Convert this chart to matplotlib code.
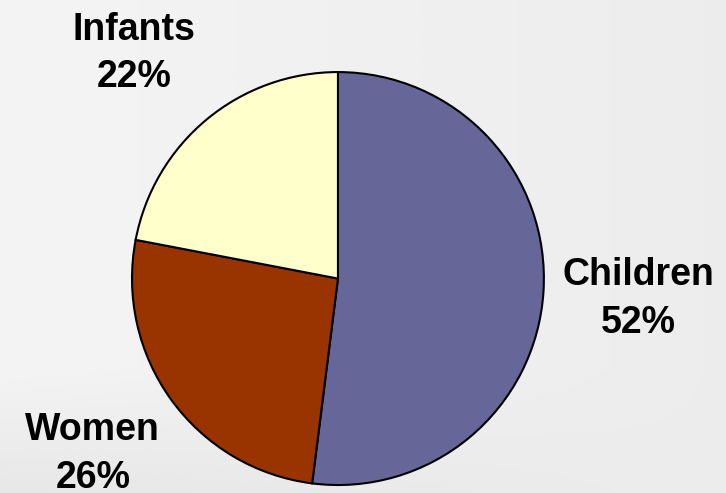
import numpy as np
import matplotlib
matplotlib.use("Agg")
import matplotlib.pyplot as plt

labels = ["Children", "Women", "Infants"]
shares = [52, 26, 22]
colors = ["#666699", "#993300", "#FFFFCC"]
# label centres in pie data units (radius = 1)
label_pos = [(1.46, -0.10), (-1.19, -0.85), (-0.99, 1.09)]

plt.rcParams["font.family"] = ["Liberation Sans", "DejaVu Sans"]

fig = plt.figure(figsize=(7.26, 4.93), dpi=100)

# soft grey background
bg = fig.add_axes([0, 0, 1, 1])
yy, xx = np.mgrid[0:1:200j, 0:1:300j]
shade = 0.955 - 0.03 * xx - 0.05 * np.clip((yy - 0.75) / 0.25, 0, 1) * (1 - xx)
bg.imshow(shade, cmap="gray", vmin=0, vmax=1, aspect="auto", extent=[0, 1, 0, 1])
bg.axis("off")

ax = fig.add_axes([0.179, 0.012, 0.573, 0.846])
ax.pie(shares, colors=colors, startangle=90, counterclock=False,
       wedgeprops=dict(edgecolor="black", linewidth=1.5))
ax.set_xlim(-1.01, 1.01)
ax.set_ylim(-1.01, 1.01)
ax.set_aspect("auto")

for name, val, (x, y) in zip(labels, shares, label_pos):
    ax.text(x, y, f"{name}\n{val}%", ha="center", va="center",
            fontsize=27, fontweight="bold", linespacing=1.42, clip_on=False)

fig.savefig("out.png", dpi=100)
